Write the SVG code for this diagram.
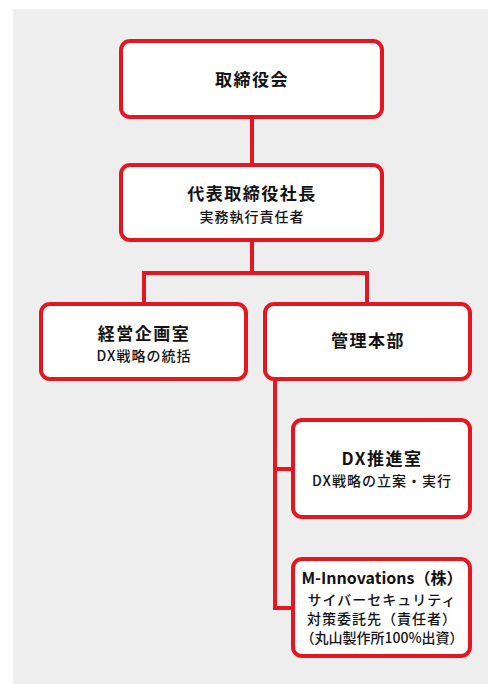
<svg xmlns="http://www.w3.org/2000/svg" width="488" height="684" viewBox="0 0 488 684">
<style>
.box{fill:#ffffff;stroke:#e5161f;stroke-width:4}
.con{stroke:#e5161f;stroke-width:4;fill:none}
text{font-family:"Noto Sans CJK JP","Noto Sans",sans-serif;fill:#111;text-anchor:middle}
.t{font-size:17px;font-weight:700;letter-spacing:1.5px}
.s{font-size:14px;font-weight:500;letter-spacing:1px}
</style>
<rect x="13" y="9" width="475" height="675" fill="#eeeeee"/>
<g id="connectors">
<path class="con" d="M252 117V165"/>
<path class="con" d="M252 240V273M144 304V273H367V304"/>
<path class="con" d="M275 379V608H293M275 469H293"/>
</g>
<g id="n1"><rect class="box" x="121" y="41" width="261" height="76" rx="9"/><text class="t" x="252" y="86">取締役会</text></g>
<g id="n2"><rect class="box" x="121" y="165" width="261" height="75" rx="9"/><text class="t" x="252" y="200">代表取締役社長</text><text class="s" x="252" y="222">実務執行責任者</text></g>
<g id="n3"><rect class="box" x="41" y="304" width="205" height="75" rx="9"/><text class="t" x="144" y="340">経営企画室</text><text class="s" x="144" y="361">DX戦略の統括</text></g>
<g id="n4"><rect class="box" x="265" y="304" width="205" height="75" rx="9"/><text class="t" x="368" y="347">管理本部</text></g>
<g id="n5"><rect class="box" x="293" y="420" width="177" height="97" rx="9"/><text class="t" x="382" y="465">DX推進室</text><text class="s" x="382" y="486">DX戦略の立案・実行</text></g>
<g id="n6"><rect class="box" x="293" y="559" width="177" height="97" rx="9"/><text class="t" x="382" y="584" style="letter-spacing:0;font-size:16px">M-Innovations（株）</text><text class="s" x="382" y="605">サイバーセキュリティ</text><text class="s" x="382" y="624">対策委託先（責任者）</text><text class="s" x="382" y="643" style="letter-spacing:0">（丸山製作所100%出資）</text></g>
</svg>
